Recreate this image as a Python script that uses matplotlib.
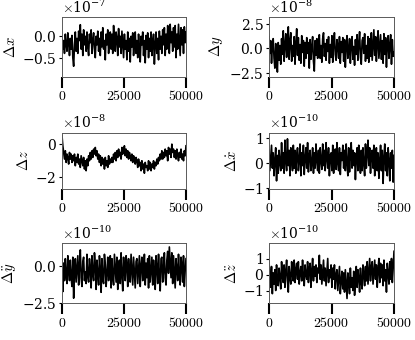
import numpy as np
import matplotlib
matplotlib.use("Agg")
import matplotlib.pyplot as plt
from matplotlib.ticker import ScalarFormatter

plt.rcParams['mathtext.fontset'] = 'cm'
plt.rcParams['font.family'] = 'serif'
plt.rcParams['font.serif'] = ['DejaVu Serif']
plt.rcParams['axes.formatter.use_mathtext'] = True
plt.rcParams['font.size'] = 10

# values in units of the per-panel multiplier (x 10^exponent)
dx = [0.0, -0.3, -0.1, -0.4, 0.05, -0.2, -0.35, 0.08, -0.15, -0.45, -0.05, -0.3, 0.02, -0.5, -0.7,
      -0.2, 0.1, -0.35, -0.05, -0.4, 0.12, -0.1, 0.27, -0.3, 0.05, -0.45, 0.15, -0.2, 0.0, -0.35,
      0.1, -0.25, -0.45, 0.05, -0.15, 0.15, -0.4, -0.1, 0.08, -0.3, -0.5, 0.0, -0.2, 0.12, -0.35,
      -0.05, -0.45, 0.1, -0.25, 0.2, -0.3, -0.1, -0.55, 0.05, -0.2, 0.15, -0.4, -0.05, 0.1, -0.3,
      0.05, -0.4, 0.25, -0.15, -0.35, 0.1, -0.05, -0.45, 0.18, -0.25, 0.0, -0.4, 0.12, -0.2, -0.5,
      0.05, -0.3, -0.1, -0.55, 0.1, -0.35, -0.05, -0.6, 0.0, -0.25, 0.08, -0.45, -0.15, 0.1, -0.4,
      -0.1, -0.5, 0.05, -0.3, -0.6, 0.0, -0.2, 0.1, -0.45, -0.1, -0.62, 0.02, -0.3, 0.08, -0.5,
      -0.05, -0.35, 0.1, -0.45, -0.15, 0.05, -0.65, -0.2, 0.1, -0.4, -0.05, -0.55, 0.12, -0.3, 0.0,
      -0.4, 0.15, -0.2, 0.2, -0.45, 0.05, -0.3, 0.25, -0.1, -0.4, 0.28, -0.15, 0.1, -0.35, 0.2,
      -0.25, 0.25, -0.5, 0.05, -0.3, 0.28, -0.1, -0.45, 0.2, -0.2, 0.15, -0.4, 0.22, -0.15, 0.1]
dy = [1.2, -0.5, 0.8, -1.5, 0.2, 1.0, -1.0, -2.0, 0.5, -0.8, -2.4, 0.6, -1.2, 0.3, -1.6,
      1.0, -0.6, 1.8, -1.3, 0.4, 1.5, -0.9, 0.2, 2.2, -1.1, 0.7, 1.6, -1.3, 0.3, -0.8,
      1.2, -1.6, 0.5, 2.0, -0.7, 1.1, -1.2, 0.4, -1.5, 1.3, -0.4, 0.8, -1.8, 0.6, -1.0,
      1.1, -0.5, 0.6, -2.0, 0.9, -1.1, 0.2, 1.2, -1.3, -2.3, 0.8, -0.7, 1.0, -1.0, 0.4,
      1.4, -1.0, 0.3, -1.4, 1.0, 1.6, -0.8, 0.5, -1.2, 0.9, -0.3, 1.2, -1.5, 0.4, -0.9,
      1.3, -1.4, 0.6, 1.6, -0.6, -1.2, 0.9, 0.2, -1.0, 1.2, -1.5, 0.7, -0.4, 1.1, -1.3,
      0.9, -1.9, 0.4, 1.3, -1.0, -0.3, 1.0, -1.5, 0.6, 1.2, -1.1, 0.2, -1.7, 0.9, -0.6,
      1.4, -1.2, 0.5, 1.7, -0.9, -1.6, 0.8, 1.1, -0.5, 1.5, -1.3, 0.3, -1.0, 1.2, -1.4,
      1.0, -0.8, 1.6, -1.2, 0.4, 1.9, -0.7, 1.2, -1.3, 0.6, 1.8, -1.0, 0.2, 1.4, -1.1,
      0.8, -1.5, 1.5, -0.6, 1.1, -1.9, 0.5, 1.3, -1.0, 0.3, 1.4, -1.6, 0.9, -0.8, -0.4]
dz = [0.5, -0.1, -0.5, -0.9, -0.4, -1.1, -0.6, -0.8, -1.2, -0.5, -0.9, -0.6, -1.1, -0.7, -1.0,
      -0.6, -1.3, -0.8, -1.1, -0.6, -1.2, -0.9, -1.4, -0.7, -1.0, -1.3, -0.8, -1.5, -1.0, -1.6,
      -0.9, -1.3, -0.7, -1.0, -0.5, -0.9, -0.4, -0.8, -0.3, -0.6, -0.2, -0.7, -0.4, -0.9, -0.6,
      -1.1, -0.7, -1.3, -0.8, -1.2, -0.9, -1.5, -0.8, -1.3, -1.0, -1.4, -0.7, -1.2, -0.9, -1.1,
      -0.8, -1.1, -0.6, -0.9, -0.5, -1.0, -0.4, -0.8, -0.3, -0.7, -0.5, -0.9, -0.2, -0.6, -0.4,
      -0.1, -0.7, -0.3, -0.8, -0.4, -0.9, -0.5, -0.7, -1.0, -0.6, -1.1, -0.7, -0.9, -1.2, -0.8,
      -1.0, -1.4, -0.9, -1.3, -1.1, -1.6, -1.0, -1.5, -1.2, -1.75, -1.1, -1.4, -1.3, -1.6, -1.0,
      -1.5, -1.1, -1.6, -1.2, -1.4, -1.0, -1.5, -1.1, -1.3, -0.9, -1.2, -0.8, -1.0, -0.6, -0.9,
      -0.4, -0.9, -0.5, -0.8, -0.3, -0.7, -0.4, -1.0, -0.2, -0.6, -0.3, -0.8, 0.0, -0.5, -0.3,
      -0.8, -0.4, -0.9, -0.3, -0.7, -1.0, -0.5, -0.8, -0.3, -0.9, -0.6, -1.0, -0.4, -0.7, -0.1]
dxd = [0.5, -0.3, 0.2, 0.7, -0.2, 0.4, -0.5, 0.1, 0.6, -0.7, 0.3, -0.4, 0.5, 0.0, -0.3,
       0.8, -0.2, 0.4, -0.4, 0.9, 0.1, -0.3, 0.95, -0.1, 0.5, -0.5, 0.6, 0.2, -0.3, 0.7,
       -0.2, 0.5, -0.4, 0.3, 0.6, -0.3, 0.1, 0.75, -0.5, 0.4, -0.1, 0.7, -0.45, 0.2, 0.6,
       -0.2, 0.8, -0.35, 0.3, 0.5, -0.3, 0.0, 0.6, -0.4, 0.4, -0.2, 0.75, 0.1, -0.3, 0.5,
       -0.4, 0.6, 0.1, -0.25, 0.75, -0.1, 0.5, -0.3, 0.8, 0.2, -0.2, 0.6, -0.5, 0.3, 0.4,
       -0.3, 0.7, -0.4, 0.2, 0.55, -0.25, 0.8, 0.0, -0.3, 0.6, -0.45, 0.4, 0.1, 0.7, -0.2,
       0.5, -0.3, 0.75, 0.0, -0.5, 0.6, -0.35, 0.3, 0.8, -0.2, 0.5, -0.1, 0.4, -0.65, 0.2,
       0.6, -0.3, 0.7, 0.1, -0.4, 0.5, -0.3, 0.6, 0.0, -0.5, 0.75, -0.2, 0.4, 0.9, -0.1,
       0.6, -0.4, 0.3, 0.5, -0.2, 0.7, -0.5, 0.2, 0.6, -0.3, 0.4, -0.6, 0.1, 0.7, -0.3,
       0.5, -0.8, 0.2, 0.75, -0.3, 0.4, -0.5, 0.6, 0.1, -0.7, 0.4, -0.2, 0.5, -0.75, 0.3]
dyd = [-0.3, -1.75, 0.2, -1.0, 0.5, -0.6, -1.2, 0.7, -0.3, -1.0, 0.4, -0.8, -1.4, 0.6, -2.2,
       -0.5, 0.5, -1.1, -0.2, 0.7, -1.3, 0.0, 1.1, -0.8, -1.4, 0.3, 0.6, -1.0, -0.4, -1.2,
       0.8, -0.7, -1.1, 0.5, -0.2, -1.5, 0.7, -0.5, -1.0, 0.9, 0.1, -1.6, 0.4, -0.6, -1.3,
       0.7, -0.2, -1.8, 0.5, -0.9, -1.2, 0.8, 0.1, -1.4, -0.5, 0.6, -1.0, -0.3, 0.7, -1.5,
       0.5, -0.8, -1.3, 0.8, -0.1, -1.1, 0.6, -1.6, 0.0, 0.4, -1.2, 0.9, -0.6, -1.7, 0.6,
       -0.4, -1.0, 0.7, 0.1, -1.4, 0.5, -0.7, -1.1, 0.8, -0.2, -1.3, 0.6, -0.5, -1.5, 0.3,
       0.5, -1.2, -0.3, 0.7, -1.4, 0.0, 0.6, -1.0, -0.6, 0.8, -1.3, 0.2, -0.8, 0.5, -1.5,
       0.7, -1.1, -0.2, 0.6, -1.3, 0.4, -0.5, -1.6, 0.7, -0.1, -1.2, 0.8, -0.7, -1.7, 0.5,
       0.6, -1.1, -0.3, 0.9, -0.8, -1.3, 0.4, 1.0, -0.5, 1.3, 0.2, -0.8, 0.9, -1.2, 0.7,
       -0.4, -1.5, 0.5, -0.2, -1.0, 0.8, -0.6, -1.3, 0.6, 0.0, -1.1, 0.7, -1.4, -0.3, 0.5]
dzd = [0.9, -0.3, -0.8, 0.5, -1.2, 0.1, -0.6, 0.3, -1.0, 0.6, -0.4, -0.7, 0.4, -0.2, -0.9,
       0.8, -0.1, -0.5, 0.6, -0.8, 0.2, 0.9, -0.4, -1.1, 0.5, -0.2, -0.6, 0.8, 0.0, -0.4,
       0.9, -0.5, 0.3, 0.7, -0.3, 0.8, -0.6, 0.1, 0.5, -0.4, 0.9, -0.2, -0.7, 0.6, 0.0,
       -0.3, 0.8, -0.5, 0.3, 0.7, -0.8, 0.2, 1.0, -0.4, 0.5, -0.1, 0.6, -0.5, 0.4, 0.1,
       1.2, -0.3, 0.6, -0.6, 0.2, 0.9, -0.4, 0.4, -0.7, 0.1, 1.0, -0.5, 0.3, -0.2, 0.6,
       -0.8, 0.4, -0.3, 0.6, -0.9, 0.0, 0.3, -1.0, -0.2, 0.5, -1.2, -0.4, 0.2, -0.9, 0.1,
       -1.1, 0.3, -0.6, -1.5, 0.1, -0.4, -1.2, 0.4, -0.8, -0.2, -1.0, 0.2, -1.3, -0.5, 0.5,
       -0.8, 0.3, -0.2, -1.1, 0.4, -0.5, -0.9, 0.6, 0.0, -0.7, 0.5, -0.4, 0.8, -0.6, 0.2,
       1.0, -0.4, 0.5, 0.8, -0.6, 0.2, 0.9, -0.3, 0.6, -0.8, 0.3, 1.0, -0.5, 0.7, -0.2,
       0.6, -0.7, 0.9, -0.4, 0.3, -1.1, 0.7, 0.1, -0.6, 0.8, -0.3, 1.0, -0.5, 0.4, 1.45]

series = [dx, dy, dz, dxd, dyd, dzd]
exponents = [-7, -8, -8, -10, -10, -10]
labels = [r'$\Delta x$', r'$\Delta y$', r'$\Delta z$', r'$\Delta \dot{x}$', r'$\Delta \ddot{y}$', r'$\Delta \ddot{z}$']
ylims = [(-0.94, 0.45), (-2.85, 3.2), (-2.7, 0.7), (-1.02, 1.2), (-2.55, 1.55), (-1.8, 1.95)]
yticks = [[-0.5, 0.0], [-2.5, 0.0, 2.5], [-2, 0], [-1, 0, 1], [-2.5, 0.0], [-1, 0, 1]]
xticks = [0, 25000, 50000]
n_steps = 50000

W, H = 415, 340
fig = plt.figure(figsize=(W / 100, H / 100), dpi=100)
cols = [(62, 186), (269, 394)]
rows = [(17, 76.5), (132.5, 189), (243.3, 303.3)]

for i, (vals, ex, lab, yl, yt) in enumerate(zip(series, exponents, labels, ylims, yticks)):
    r, c = divmod(i, 2)
    x0, x1 = cols[c]
    y0, y1 = rows[r]
    sc = 10.0 ** ex
    ax = fig.add_axes([x0 / W, 1 - y1 / H, (x1 - x0) / W, (y1 - y0) / H])
    v = np.array(vals) * sc
    t = np.linspace(0, n_steps, len(v))
    ax.plot(t, v, color='black', lw=1.2)
    ax.set_xlim(0, n_steps)
    ax.set_ylim(yl[0] * sc, yl[1] * sc)
    ax.set_yticks(np.array(yt) * sc)
    ax.set_xticks(xticks)
    fmt = ScalarFormatter(useMathText=True)
    fmt.set_powerlimits((ex, ex))
    ax.yaxis.set_major_formatter(fmt)
    ax.xaxis.set_major_formatter(plt.FuncFormatter(lambda val, pos: r'$%d$' % val))
    ax.set_ylabel(lab, fontsize=10.5, labelpad=3)
    ax.tick_params(axis='x', length=8, width=1.5, pad=1, labelsize=10, color='black')
    ax.tick_params(axis='y', length=2.5, width=0.8, pad=1.5, labelsize=10)
    ax.yaxis.get_offset_text().set_fontsize(10)
    for s in ax.spines.values():
        s.set_linewidth(0.7)
        s.set_color('0.35')

fig.savefig('out.png', dpi=100)
